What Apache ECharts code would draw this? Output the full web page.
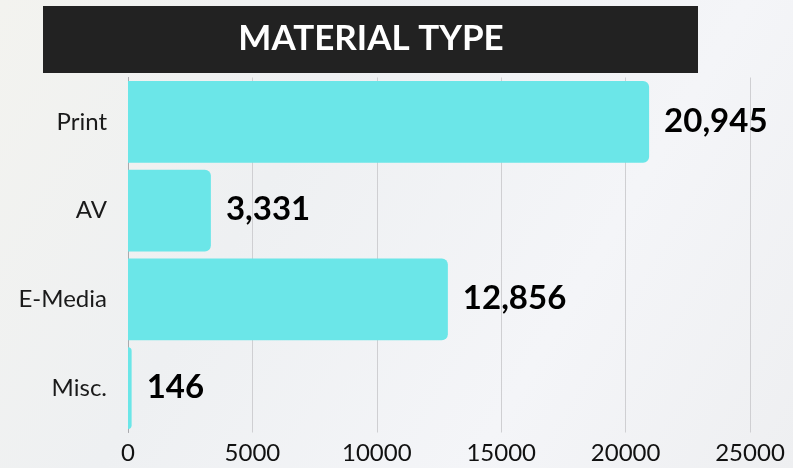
<!DOCTYPE html>
<html>
<head>
<meta charset="utf-8">
<title>Material Type</title>
<script src="https://cdn.jsdelivr.net/npm/echarts@6/dist/echarts.min.js"></script>
<style>
  html, body { margin: 0; padding: 0; }
  #chart { width: 793px; height: 468px; }
</style>
</head>
<body>
<div id="chart"></div>
<script>
// Circulation counts by material type
const categories = ['Print', 'AV', 'E-Media', 'Misc.'];
const counts = [20945, 3331, 12856, 146];
const axisTicks = [0, 5000, 10000, 15000, 20000, 25000];

const chart = echarts.init(document.getElementById('chart'), null, { renderer: 'canvas' });

const fmt = v => v.toLocaleString('en-US');

chart.setOption({
  animation: false,
  backgroundColor: {
    type: 'linear', x: 0, y: 0, x2: 1, y2: 1,
    colorStops: [
      { offset: 0, color: '#f3f3ef' },
      { offset: 0.35, color: '#eef0f2' },
      { offset: 0.7, color: '#f4f5f8' },
      { offset: 1, color: '#eeeff1' }
    ]
  },
  graphic: [
    {
      type: 'rect',
      shape: { x: 43, y: 6, width: 655, height: 67 },
      style: { fill: '#222222' },
      z: 10
    },
    {
      type: 'text',
      x: 371, y: 39,
      style: {
        text: 'MATERIAL TYPE',
        fill: '#ffffff',
        font: 'bold 35px Lato, "DejaVu Sans", sans-serif',
        align: 'center',
        verticalAlign: 'middle'
      },
      z: 11
    }
  ],
  grid: { left: 128, right: 43, top: 77.5, bottom: 35.5, containLabel: false },
  xAxis: {
    type: 'value',
    min: axisTicks[0],
    max: axisTicks[axisTicks.length - 1],
    interval: axisTicks[1] - axisTicks[0],
    axisLine: { show: false },
    axisTick: { show: false },
    splitLine: { show: true, lineStyle: { color: '#cfcfd2', width: 1 } },
    axisLabel: {
      color: '#111111',
      fontSize: 24,
      letterSpacing: 1.5,
      fontFamily: 'Lato, "Noto Sans", sans-serif',
      margin: 9,
      formatter: v => String(v)
    }
  },
  yAxis: {
    type: 'category',
    data: categories,
    inverse: true,
    axisLine: { show: true, lineStyle: { color: '#a9a9ad', width: 1 } },
    axisTick: { show: false },
    axisLabel: {
      color: '#1a1a1a',
      fontSize: 24,
      letterSpacing: 1,
      fontFamily: 'Lato, "Noto Sans", sans-serif',
      margin: 21
    }
  },
  series: [{
    type: 'bar',
    data: counts,
    barCategoryGap: '8%',
    itemStyle: { color: '#6be6e8', borderRadius: [0, 6, 6, 0] },
    label: {
      show: true,
      position: 'right',
      distance: 15,
      offset: [0, -1],
      color: '#000000',
      fontSize: 33,
      fontWeight: 'bold',
      letterSpacing: 0.5,
      fontFamily: 'Lato, "Noto Sans", sans-serif',
      formatter: p => fmt(p.value)
    }
  }]
});
</script>
</body>
</html>
